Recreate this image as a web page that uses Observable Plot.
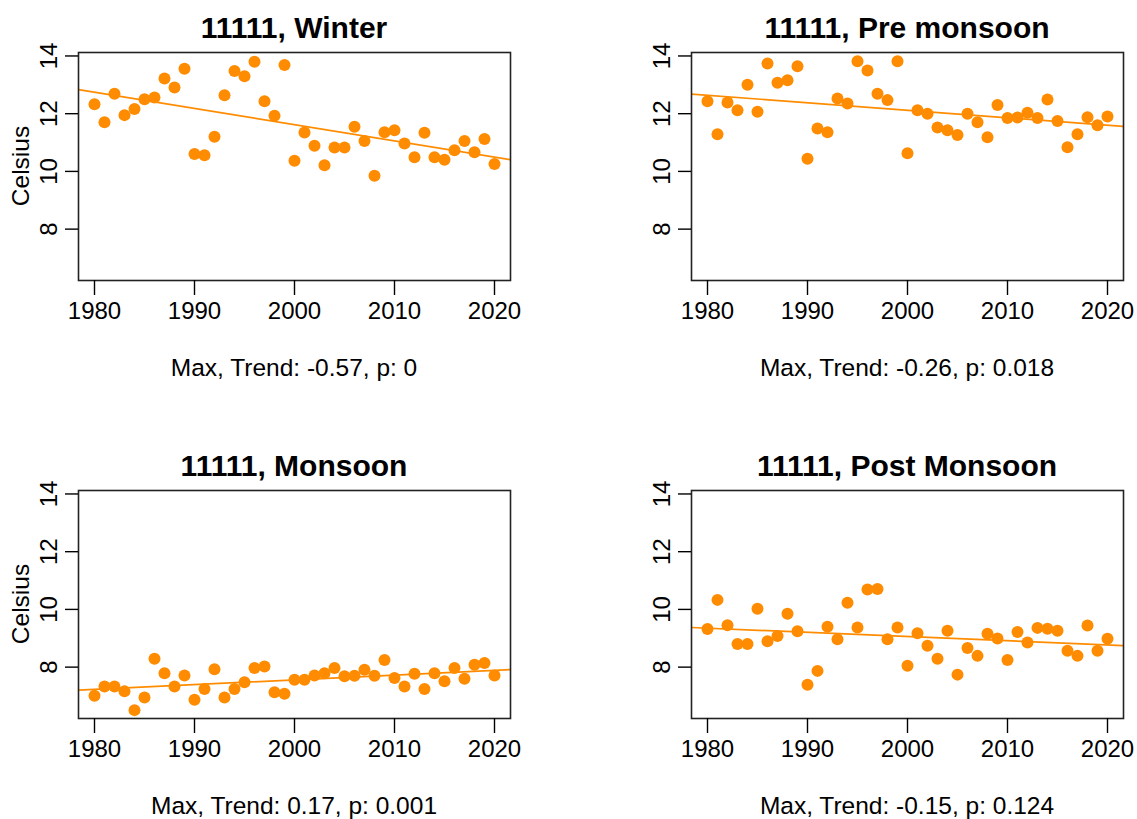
<!DOCTYPE html>
<html><head><meta charset="utf-8">
<script src="https://cdn.jsdelivr.net/npm/d3@7"></script>
<script src="https://cdn.jsdelivr.net/npm/@observablehq/plot@0.6"></script>
<style>
body{margin:0;background:#fff;}
#root{position:relative;width:1137px;height:819px;font-family:"Liberation Sans",Arial,sans-serif;color:#000;overflow:hidden;background:#fff}
.t{position:absolute;font-weight:bold;font-size:30px;line-height:1;white-space:nowrap;transform:translateX(-50%)}
.c{position:absolute;font-size:24.5px;line-height:1;white-space:nowrap;transform:translateX(-50%)}
.yl{position:absolute;font-size:24.5px;line-height:1;white-space:nowrap;transform:translate(-50%,-50%) rotate(-90deg)}
.p{position:absolute}
</style></head><body><div id="root"></div>
<script>
const years = [1980,1981,1982,1983,1984,1985,1986,1987,1988,1989,1990,1991,1992,1993,1994,1995,1996,1997,1998,1999,2000,2001,2002,2003,2004,2005,2006,2007,2008,2009,2010,2011,2012,2013,2014,2015,2016,2017,2018,2019,2020];
const winter = [12.33,11.70,12.69,11.95,12.16,12.50,12.56,13.22,12.91,13.56,10.60,10.56,11.20,12.64,13.48,13.30,13.80,12.43,11.93,13.69,10.37,11.35,10.89,10.21,10.83,10.83,11.55,11.05,9.85,11.36,11.43,10.97,10.49,11.34,10.49,10.40,10.73,11.05,10.66,11.12,10.26];
const preMonsoon = [12.43,11.29,12.39,12.12,13.00,12.07,13.74,13.07,13.16,13.64,10.44,11.49,11.36,12.53,12.35,13.82,13.50,12.69,12.47,13.82,10.63,12.12,12.00,11.52,11.43,11.26,12.00,11.70,11.18,12.30,11.85,11.87,12.03,11.85,12.49,11.75,10.84,11.29,11.88,11.60,11.90];
const monsoon = [7.01,7.33,7.33,7.16,6.51,6.95,8.29,7.79,7.33,7.71,6.87,7.24,7.93,6.95,7.24,7.48,7.97,8.02,7.13,7.08,7.56,7.56,7.71,7.79,7.97,7.68,7.70,7.91,7.70,8.25,7.62,7.33,7.77,7.24,7.79,7.51,7.97,7.60,8.08,8.14,7.71];
const postMonsoon = [9.32,10.33,9.45,8.80,8.80,10.02,8.90,9.08,9.85,9.24,7.39,7.87,9.40,8.97,10.23,9.37,10.69,10.71,8.97,9.37,8.05,9.17,8.74,8.29,9.26,7.74,8.66,8.39,9.16,8.99,8.25,9.22,8.85,9.36,9.33,9.26,8.57,8.39,9.44,8.57,8.98];
const titles = ["11111, Winter","11111, Pre monsoon","11111, Monsoon","11111, Post Monsoon"];
const captions = ["Max, Trend: -0.57, p: 0","Max, Trend: -0.26, p: 0.018","Max, Trend: 0.17, p: 0.001","Max, Trend: -0.15, p: 0.124"];
const xTicks = [1980,1990,2000,2010,2020];
const yTicks = [8,10,12,14];
const yLabel = "Celsius";

const ORANGE = "#ff8c00";
const FONT = "'Liberation Sans', Arial, sans-serif";
const xDomain = [1978.4, 2021.6];
const yDomain = [6.22, 14.12];

const layout = [
  {series: winter, left: 0, top: 40, width: 560, ml: 78, mr: 50, ylab: true},
  {series: preMonsoon, left: 600, top: 40, width: 537, ml: 91, mr: 14, ylab: false},
  {series: monsoon, left: 0, top: 478, width: 560, ml: 78, mr: 50, ylab: true},
  {series: postMonsoon, left: 600, top: 478, width: 537, ml: 91, mr: 14, ylab: false}
];
const H = 290, MT = 12, MB = 50;

function fitLine(xs, ys) {
  const mx = d3.mean(xs), my = d3.mean(ys);
  let sxy = 0, sxx = 0;
  xs.forEach((x, i) => { sxy += (x - mx) * (ys[i] - my); sxx += (x - mx) * (x - mx); });
  const b = sxy / sxx, a = my - b * mx;
  return xDomain.map(x => ({x, y: a + b * x}));
}

const root = document.getElementById("root");
layout.forEach((p, i) => {
  const data = years.map((yr, j) => ({x: yr, y: p.series[j]}));
  const fit = fitLine(years, p.series);
  const plot = Plot.plot({
    width: p.width, height: H,
    marginLeft: p.ml, marginRight: p.mr, marginTop: MT, marginBottom: MB,
    x: {domain: xDomain},
    y: {domain: yDomain},
    style: {fontFamily: FONT, fontSize: "24px", color: "#000", background: "transparent", overflow: "visible"},
    marks: [
      Plot.line(fit, {x: "x", y: "y", stroke: ORANGE, strokeWidth: 1.7, clip: true}),
      Plot.dot(data, {x: "x", y: "y", r: 6, fill: ORANGE, stroke: "none"}),
      Plot.frame({stroke: "#222", strokeWidth: 1.6}),
      Plot.axisX({ticks: xTicks, tickFormat: d => String(d), tickSize: 15, tickPadding: 6, label: null, strokeWidth: 1.4}),
      Plot.axisY({ticks: yTicks, tickFormat: d => String(d), tickRotate: -90, tickSize: 13, tickPadding: 9, label: null, strokeWidth: 1.4})
    ]
  });
  plot.classList.add("p");
  plot.style.left = p.left + "px";
  plot.style.top = p.top + "px";
  root.appendChild(plot);

  const boxCenter = p.left + p.ml + (p.width - p.ml - p.mr) / 2;
  const t = document.createElement("div");
  t.className = "t"; t.textContent = titles[i];
  t.style.left = boxCenter + "px"; t.style.top = (p.top - 27.4) + "px";
  root.appendChild(t);

  const c = document.createElement("div");
  c.className = "c"; c.textContent = captions[i];
  c.style.left = boxCenter + "px"; c.style.top = (p.top + 316) + "px";
  root.appendChild(c);

  if (p.ylab) {
    const yl = document.createElement("div");
    yl.className = "yl"; yl.textContent = yLabel;
    yl.style.left = "20.5px"; yl.style.top = (p.top + MT + (H - MT - MB) / 2) + "px";
    root.appendChild(yl);
  }
});
</script>
</body></html>
